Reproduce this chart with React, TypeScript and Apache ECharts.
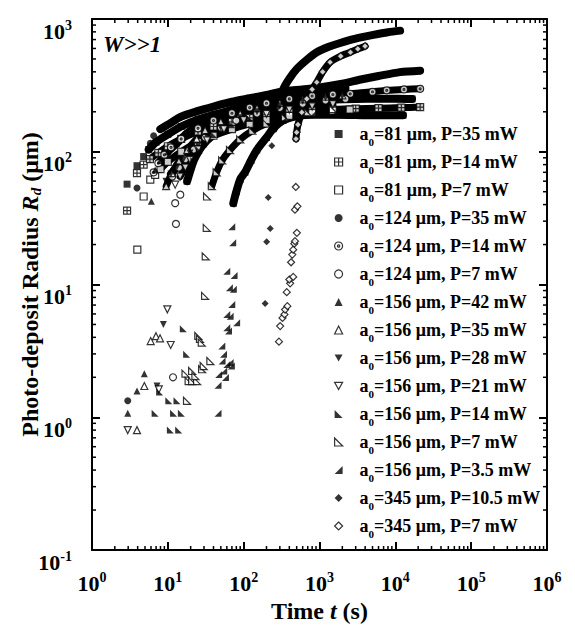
import React, { useEffect, useRef } from 'react';
import * as echarts from 'echarts';

const FONT = "'Liberation Serif', 'Times New Roman', Times, serif";

// ---- data: [time t (s), radius Rd (um)] ----
// a0=81 um, P=35 mW
const sq35Pts = [[2.9, 57], [3.92, 78.5], [4.8, 92]];
const sq35Band = [[5.6, 104], [7, 118], [10, 135], [15, 155], [25, 175], [40, 190], [70, 205], [120, 218], [200, 228], [400, 238], [800, 245], [1500, 248], [3000, 250], [6000, 251], [11000, 251], [16600, 250]];
// a0=81 um, P=14 mW
const sq14Pts = [[2.9, 36], [3.92, 69], [4.8, 80]];
const sq14Band = [[5.8, 88], [7.5, 98], [10, 110], [15, 125], [25, 142], [40, 155], [70, 168], [120, 180], [200, 190], [400, 198], [800, 204], [1500, 208], [3000, 211], [6000, 213], [12000, 215], [21240, 217]];
// a0=81 um, P=7 mW
const sq7Pts = [[3.96, 18.3], [4.8, 46], [5.87, 61.6], [6.8, 67]];
const sq7Band = [[8, 74], [10, 84], [15, 100], [25, 118], [40, 132], [70, 148], [120, 162], [200, 173], [400, 186], [800, 196], [1500, 204], [2500, 208]];
// a0=124 um, P=35 mW
const c35Pts = [[2.96, 1.33], [3.92, 53.4], [5.87, 116], [6.5, 132]];
const c35Band = [[7.96, 148], [10, 160], [15, 184], [25, 203], [40, 219], [70, 238], [120, 253], [200, 268], [300, 282], [600, 295], [1000, 305], [1900, 324], [3500, 350], [6000, 372], [11500, 398], [21240, 408]];
// a0=124 um, P=14 mW
const c14Pts = [[6.5, 70], [7.5, 82]];
const c14Band = [[9, 95], [11, 108], [15, 125], [25, 150], [40, 172], [70, 195], [120, 215], [200, 232], [400, 250], [800, 263], [1500, 270], [2540, 273], [5000, 283], [7700, 290], [13000, 295], [21240, 298]];
// a0=124 um, P=7 mW
const c7Pts = [[11.7, 2.0], [12.8, 28.6], [12.5, 41], [14.6, 47.5], [11.4, 65]];
const c7Band = [[14, 76], [17, 88], [22, 104], [31, 128], [50, 152], [80, 172], [150, 194], [300, 214], [600, 230], [1200, 243], [2200, 250]];
// a0=156 um, P=42 mW
const t42Pts = [[2.96, 1.07], [3.92, 1.58], [4.9, 2.13], [6.06, 42.3], [6.8, 73]];
const t42Band = [[8, 86], [10, 100], [13, 115], [18, 138], [30, 168], [50, 193], [90, 218], [150, 238], [300, 260], [600, 277], [1200, 292], [2200, 302]];
// a0=156 um, P=35 mW
const t35Pts = [[3.92, 0.8], [4.9, 1.72], [5.94, 3.75], [6.98, 4.08], [7.89, 3.93]];
const t35Band = [[9.5, 55], [11.3, 69], [14, 85], [18, 103], [24, 125], [31, 145], [50, 168], [90, 193], [150, 213], [300, 233], [600, 248], [1200, 260], [2000, 266]];
// a0=156 um, P=28 mW
const d28Pts = [[7.2, 1.72], [8.73, 5.0], [9.45, 60]];
const d28Band = [[11, 68], [13.2, 77], [16, 87], [19.6, 98], [25, 112], [33, 130], [50, 152], [90, 180], [150, 200], [300, 222], [600, 240], [1200, 254], [2000, 262]];
// a0=156 um, P=21 mW
const d21Pts = [[2.96, 0.8], [7.6, 1.62], [9.85, 6.5], [10.9, 3.5], [12.5, 56.5]];
const d21Band = [[14.5, 65], [17, 76], [19.6, 87], [25, 104], [33, 122], [55, 148], [100, 173], [200, 193], [400, 208], [800, 220], [1500, 228]];
// a0=156 um, P=14 mW
const r14Pts = [[6.8, 1.07], [7.8, 1.55], [10.3, 1.33], [11.9, 1.07], [13.2, 1.33], [15.1, 1.07], [10.8, 0.8], [13.9, 0.8], [16, 4.64], [17.7, 2.98]];
const r14Band = [[18, 60], [19.5, 70], [22, 86], [26, 103], [30, 115], [40, 135], [70, 160], [120, 178], [250, 198], [500, 212], [1000, 222]];
// a0=156 um, P=7 mW
const r7Pts = [[17.9, 1.33], [17.1, 2.13], [20.9, 2.23], [18.8, 1.87], [20.9, 1.87], [24.3, 1.87], [23.1, 2.04], [28.3, 2.3], [29.7, 2.43], [36.4, 2.65], [25.2, 4.1], [26.5, 3.9], [28, 3.65], [31, 8.2], [31.6, 16.3], [32.6, 26.7], [32.9, 46]];
const r7Band = [[38, 55], [44, 70], [52, 86], [66, 103], [90, 124], [130, 144], [200, 163], [350, 182], [700, 198], [1500, 210]];
// a0=156 um, P=3.5 mW
const l35Pts = [[45.9, 1.07], [45.9, 1.74], [57.5, 1.99], [46.8, 2.1], [54.6, 2.23], [51.9, 2.65], [60, 2.5], [68.9, 2.43], [66.3, 2.58], [54.2, 2.98], [51.5, 3.44], [63.1, 4.46], [59.8, 4.72], [80.8, 5.15], [66.3, 5.77], [59.8, 5.95], [69.6, 7.08], [73, 9.2], [64.8, 9.45], [74.7, 11.7], [59.8, 12.6], [71.7, 20.6], [69.6, 27.2]];
const l35Band = [[73, 41], [80, 50], [90, 62], [104, 70], [125, 86], [149, 103], [200, 128], [244, 149], [330, 172], [500, 185], [800, 190], [1500, 190], [3000, 189], [6000, 188], [12600, 188]];
// a0=345 um, P=10.5 mW
const dm105Pts = [[192, 7.2], [201, 21], [224, 26.4], [211, 45.3], [235, 111]];
const dm105Band = [[250, 150], [280, 215], [335, 298], [400, 355], [502, 421], [700, 500], [920, 562], [1300, 615], [1870, 660], [3000, 712], [5140, 759], [8000, 795], [11570, 817]];
// a0=345 um, P=7 mW
const dm7Pts = [[292, 3.71], [303, 4.86], [325, 5.6], [345, 5.95], [352, 6.47], [377, 6.87], [370, 8.75], [410, 10.2], [400, 10.9], [450, 11.4], [422, 14.7], [438, 16.8], [450, 18.3], [465, 20.3], [475, 21.2], [503, 24.5], [475, 36.6], [511, 38.8], [487, 54.3]];
const dm7Band = [[490, 125], [500, 140], [520, 160], [584, 198], [680, 250], [800, 295], [920, 334], [1100, 400], [1380, 472], [1900, 525], [2560, 562], [3200, 595], [3990, 624]];

const seriesNames = [
  'a0=81 μm, P=35 mW', 'a0=81 μm, P=14 mW', 'a0=81 μm, P=7 mW',
  'a0=124 μm, P=35 mW', 'a0=124 μm, P=14 mW', 'a0=124 μm, P=7 mW',
  'a0=156 μm, P=42 mW', 'a0=156 μm, P=35 mW', 'a0=156 μm, P=28 mW',
  'a0=156 μm, P=21 mW', 'a0=156 μm, P=14 mW', 'a0=156 μm, P=7 mW',
  'a0=156 μm, P=3.5 mW', 'a0=345 μm, P=10.5 mW', 'a0=345 μm, P=7 mW',
];
const pointSets = [sq35Pts, sq14Pts, sq7Pts, c35Pts, c14Pts, c7Pts, t42Pts, t35Pts, d28Pts, d21Pts, r14Pts, r7Pts, l35Pts, dm105Pts, dm7Pts];
const bandSets = [sq35Band, sq14Band, sq7Band, c35Band, c14Band, c7Band, t42Band, t35Band, d28Band, d21Band, r14Band, r7Band, l35Band, dm105Band, dm7Band];

// ---- marker styles ----
const SQ_CROSS = 'path://M0,0L10,0L10,10L0,10Z M5,0L5,10 M0,5L10,5';
const CIRC_DOT = 'path://M10,5A5,5,0,1,1,0,5A5,5,0,1,1,10,5Z M6.4,5A1.4,1.4,0,1,1,3.6,5A1.4,1.4,0,1,1,6.4,5Z';
const TRI_DOWN = 'path://M0,0L10,0L5,9Z';
const RT_LEFT = 'path://M0,0L0,10L10,10Z';
const RT_RIGHT = 'path://M10,0L10,10L0,10Z';
const markerSymbols = ['rect', SQ_CROSS, 'rect', 'circle', CIRC_DOT, 'circle', 'triangle', 'triangle', TRI_DOWN, TRI_DOWN, RT_LEFT, RT_LEFT, RT_RIGHT, 'diamond', 'diamond'];
const markerOpen = [false, true, true, false, true, true, false, true, false, true, false, true, false, false, true];

const decades = [0, 1, 2, 3, 4, 5];
const yDecades = [-1, 0, 1, 2];
const mult = [2, 3, 4, 5, 6, 7, 8, 9];

function buildOption() {
  const xMinor: number[][] = [];
  decades.forEach((d) => mult.forEach((m) => xMinor.push([m * Math.pow(10, d), 1])));
  const yMinor: number[][] = [];
  yDecades.forEach((d) => mult.forEach((m) => yMinor.push([1, +(m * Math.pow(10, d)).toPrecision(3)])));

  const styleOf = (i: number) =>
    markerOpen[i]
      ? { color: '#fff', borderColor: '#000', borderWidth: 1.2 }
      : { color: '#000', borderWidth: 0 };

  const scatterSeries = seriesNames.map((name, i) => ({
    type: 'scatter',
    name,
    data: [...pointSets[i], ...bandSets[i]],
    symbol: markerSymbols[i],
    symbolSize: 7,
    itemStyle: styleOf(i),
    z: 4,
    silent: true,
  }));
  const bandSeries = seriesNames.map((name, i) => ({
    type: 'line',
    name,
    data: bandSets[i],
    showSymbol: false,
    symbol: 'none',
    smooth: 0.25,
    lineStyle: { color: '#000', width: markerOpen[i] ? 7 : 8, cap: 'round', join: 'round' },
    itemStyle: { color: '#000' },
    z: 3,
    silent: true,
  }));

  const tickStyle = { color: '#000', width: 2 };
  const minorLine = { stroke: '#000', lineWidth: 1.5 };

  const xMinorSeries = {
    type: 'custom',
    silent: true,
    z: 6,
    data: xMinor,
    renderItem: (params: any, api: any) => {
      const p = api.coord([api.value(0), 1]);
      const cs = params.coordSys;
      const b = cs.y + cs.height;
      return {
        type: 'group',
        children: [
          { type: 'line', shape: { x1: p[0], y1: b, x2: p[0], y2: b - 4 }, style: minorLine },
          { type: 'line', shape: { x1: p[0], y1: cs.y, x2: p[0], y2: cs.y + 4 }, style: minorLine },
        ],
      };
    },
  };
  const yMinorSeries = {
    type: 'custom',
    silent: true,
    z: 6,
    data: yMinor,
    renderItem: (params: any, api: any) => {
      const p = api.coord([1, api.value(1)]);
      const cs = params.coordSys;
      const r = cs.x + cs.width;
      return {
        type: 'group',
        children: [
          { type: 'line', shape: { x1: cs.x, y1: p[1], x2: cs.x + 4, y2: p[1] }, style: minorLine },
          { type: 'line', shape: { x1: r, y1: p[1], x2: r - 4, y2: p[1] }, style: minorLine },
        ],
      };
    },
  };

  const powLabel = (v: number) => `{m|10}{e|${Math.round(Math.log10(v))}}`;
  const labelRich = {
    m: { fontFamily: FONT, fontWeight: 'bold', fontSize: 22, lineHeight: 20, verticalAlign: 'bottom', color: '#000' },
    e: { fontFamily: FONT, fontWeight: 'bold', fontSize: 14, lineHeight: 34, color: '#000' },
  };
  const nameRich = {
    n: { fontFamily: FONT, fontWeight: 'bold', fontSize: 24, lineHeight: 26, color: '#000' },
    i: { fontFamily: FONT, fontWeight: 'bold', fontStyle: 'italic', fontSize: 24, lineHeight: 26, color: '#000' },
    d: { fontFamily: FONT, fontWeight: 'bold', fontStyle: 'italic', fontSize: 15, lineHeight: 15, verticalAlign: 'bottom', color: '#000' },
  };

  const baseAxis = {
    type: 'log',
    logBase: 10,
    axisLine: { show: true, onZero: false, lineStyle: { color: '#000', width: 2 } },
    axisTick: { show: true, inside: true, length: 8, lineStyle: tickStyle },
    splitLine: { show: false },
    minorTick: { show: false },
  };

  return {
    animation: false,
    backgroundColor: '#fff',
    title: {
      text: 'W>>1',
      left: 103,
      top: 33,
      padding: 0,
      textStyle: { fontFamily: FONT, fontWeight: 'bold', fontStyle: 'italic', fontSize: 23, color: '#000' },
    },
    grid: { left: 92, right: 28, top: 19, bottom: 77 },
    legend: {
      orient: 'vertical',
      left: 334,
      top: 125,
      padding: 0,
      itemWidth: 8,
      itemHeight: 8,
      itemGap: 6,
      selectedMode: false,
      data: seriesNames.map((name, i) => ({ name, icon: markerSymbols[i], itemStyle: styleOf(i) })),
      formatter: (name: string) => `{g| }{a|a}{s|0}{a|${name.slice(2)}}`,
      textStyle: {
        fontFamily: FONT,
        fontWeight: 'bold',
        fontSize: 18,
        color: '#000',
        rich: {
          g: { width: 12, fontSize: 18 },
          a: { fontFamily: FONT, fontWeight: 'bold', fontSize: 18, lineHeight: 26, color: '#000' },
          s: { fontFamily: FONT, fontWeight: 'bold', fontSize: 11, lineHeight: 2, verticalAlign: 'bottom', color: '#000' },
        },
      },
    },
    xAxis: [
      {
        ...baseAxis,
        min: 1,
        max: 1e6,
        position: 'bottom',
        axisLabel: { formatter: powLabel, margin: 10, rich: labelRich, color: '#000' },
        name: '{n|Time }{i|t}{n| (s)}',
        nameLocation: 'middle',
        nameGap: 48,
        nameMoveOverlap: false,
        nameTextStyle: { rich: nameRich },
      },
      { ...baseAxis, min: 1, max: 1e6, position: 'top', axisLabel: { show: false } },
    ],
    yAxis: [
      {
        ...baseAxis,
        min: 0.1,
        max: 1000,
        position: 'left',
        axisLabel: { formatter: powLabel, margin: 20, padding: [12, 0, 0, 0], rich: labelRich, color: '#000' },
        name: '{n|Photo-deposit Radius }{i|R}{d|d}{n| (μm)}',
        nameLocation: 'middle',
        nameRotate: 90,
        nameGap: 49,
        nameMoveOverlap: false,
        nameTextStyle: { rich: nameRich },
      },
      { ...baseAxis, min: 0.1, max: 1000, position: 'right', axisLabel: { show: false } },
    ],
    series: [...scatterSeries, ...bandSeries, xMinorSeries, yMinorSeries],
  };
}

export default function App() {
  const ref = useRef<HTMLDivElement>(null);
  useEffect(() => {
    document.body.style.margin = '0';
    const chart = echarts.init(ref.current as HTMLDivElement, null, { renderer: 'svg' });
    chart.setOption(buildOption() as any);
    return () => chart.dispose();
  }, []);
  return <div ref={ref} style={{ width: 575, height: 628 }} />;
}
